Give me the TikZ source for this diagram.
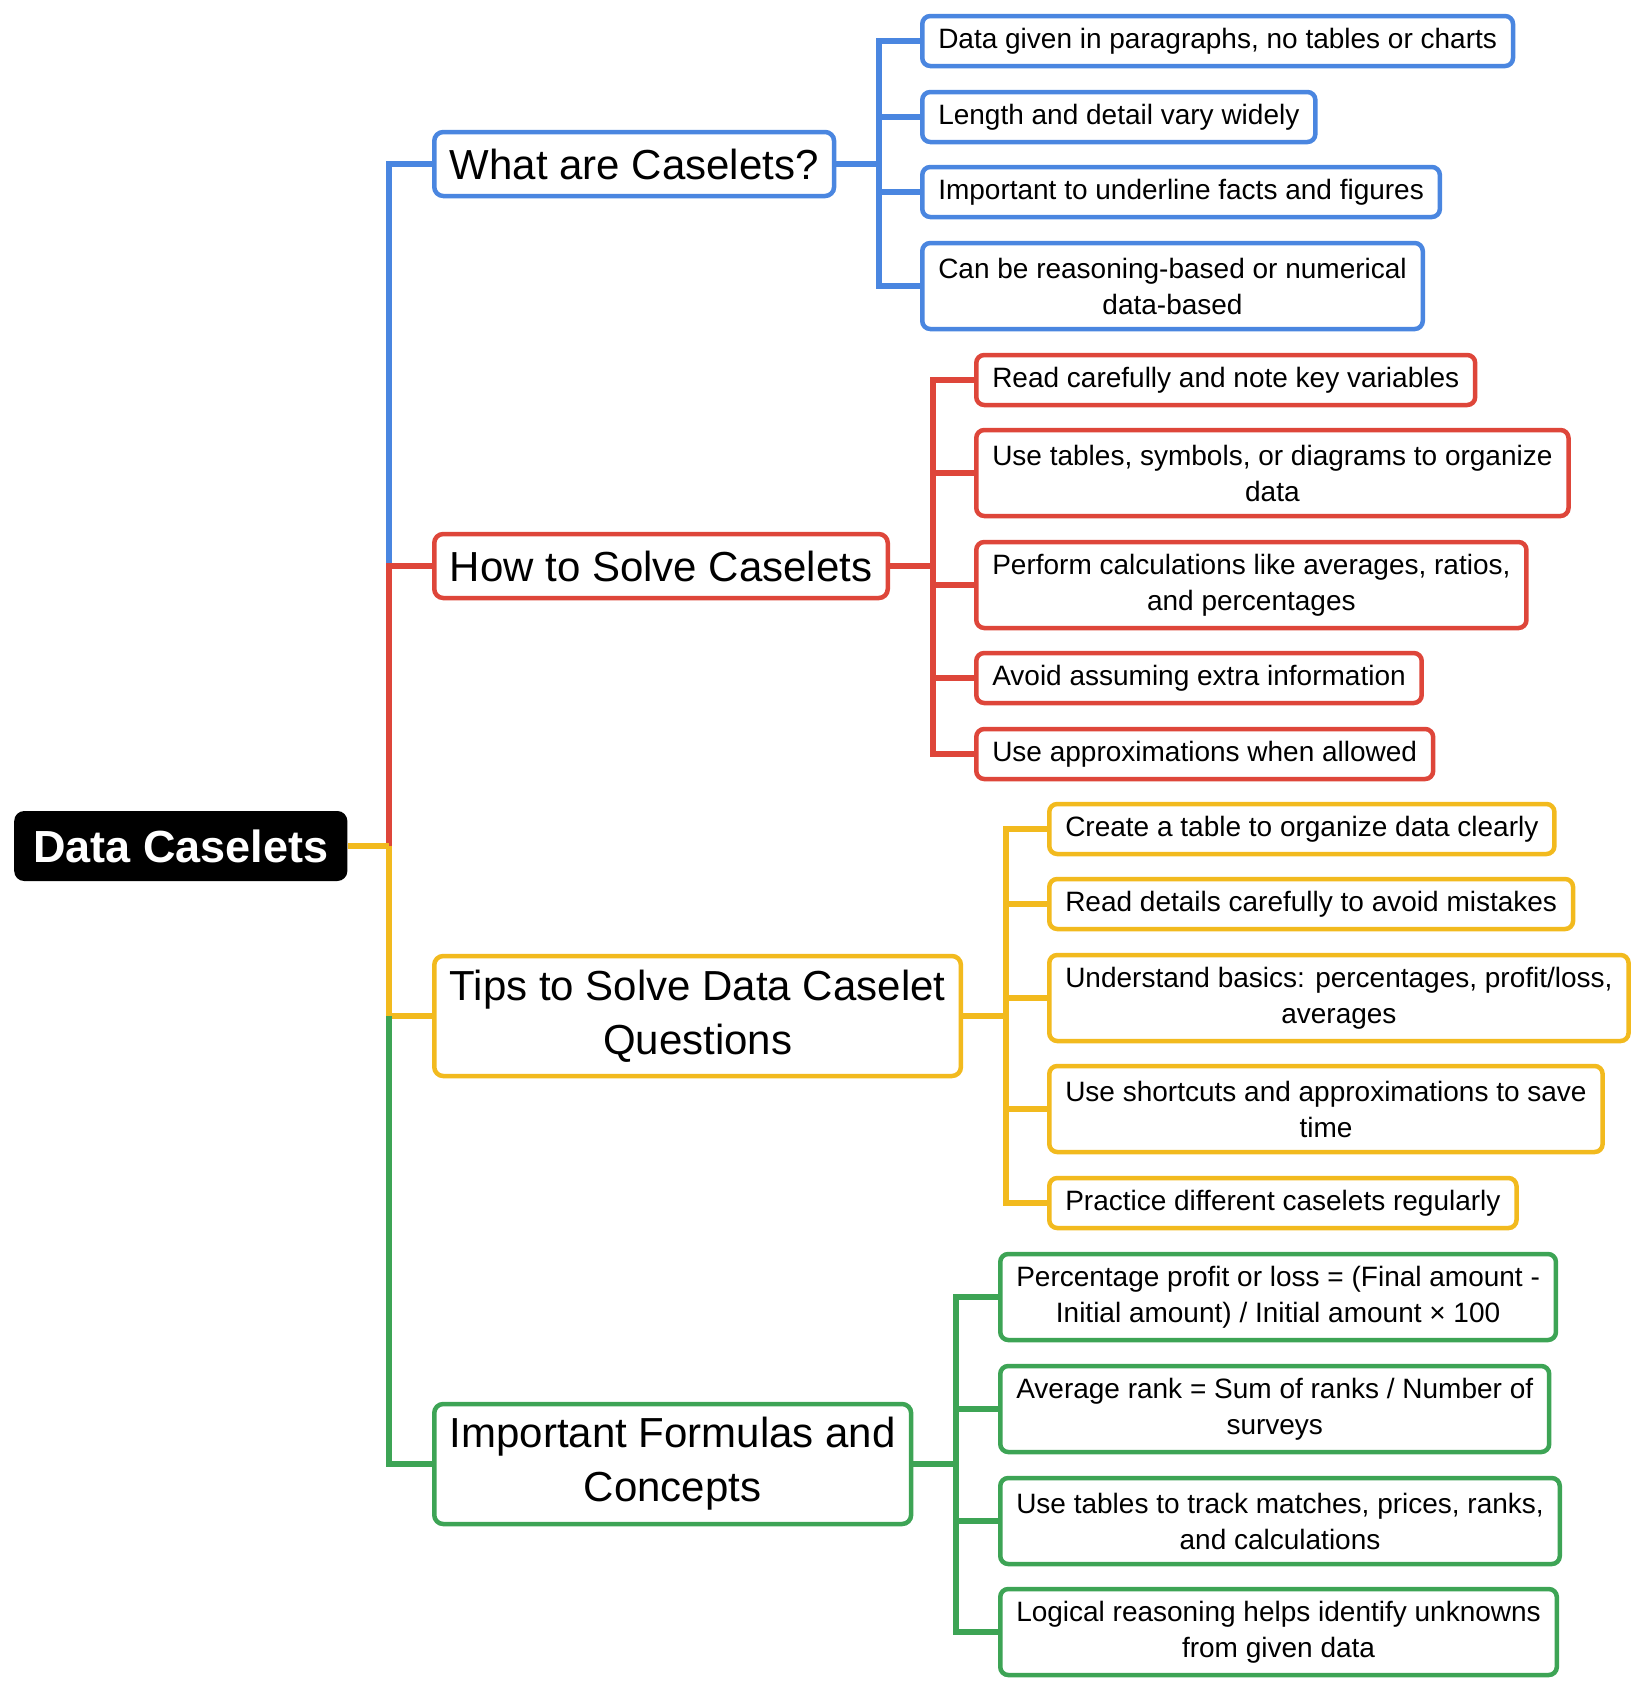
\documentclass[tikz,border=0pt]{standalone}
\usepackage{fontspec}
\setmainfont{Liberation Sans}
\usepackage{xcolor}
\usetikzlibrary{positioning,calc}

\definecolor{cblue}{HTML}{4A86E0}
\definecolor{cred}{HTML}{DE463A}
\definecolor{cyellow}{HTML}{F2BA1E}
\definecolor{cgreen}{HTML}{3DA455}

\begin{document}
\begin{tikzpicture}[x=1pt, y=-1pt,
    root/.style={rectangle, fill=black, text=white, rounded corners=10pt, inner xsep=19pt, minimum height=70pt, anchor=west, font=\bfseries\fontsize{45}{54}\selectfont},
    topic/.style={rectangle, draw, fill=white, rounded corners=9pt, line width=4.5pt, inner xsep=15.5pt, inner ysep=4pt, minimum height=64pt, align=center, anchor=west, font=\fontsize{42}{54}\selectfont},
    leaf/.style={rectangle, draw, fill=white, rounded corners=8pt, line width=4.5pt, inner xsep=16pt, inner ysep=4pt, minimum height=50pt, align=center, anchor=west, font=\fontsize{28}{36}\selectfont},
    tall/.style={minimum height=86pt},
    link/.style={line width=6pt}]

    \useasboundingbox (0,0) rectangle (1642,1692);

    % Root
    \node[root] (root) at (14,846) {Data Caselets};
    \coordinate (trunk) at (389,846);

    % Main topics
    \node[topic, draw=cblue] (what) at (432,164) {What are Caselets?};
    \node[topic, draw=cred] (how) at (432,566) {How to Solve Caselets};
    \node[topic, draw=cyellow, minimum height=120pt] (tips) at (432,1016) {Tips to Solve Data Caselet\\Questions};
    \node[topic, draw=cgreen, minimum height=120pt] (imp) at (432,1464) {Important Formulas and\\Concepts};

    % What are Caselets?
    \node[leaf, draw=cblue] (w1) at (920,41) {Data given in paragraphs, no tables or charts};
    \node[leaf, draw=cblue] (w2) at (920,117) {Length and detail vary widely};
    \node[leaf, draw=cblue] (w3) at (920,192) {Important to underline facts and figures};
    \node[leaf, draw=cblue, tall] (w4) at (920,286) {Can be reasoning-based or numerical\\data-based};

    % How to Solve Caselets
    \node[leaf, draw=cred] (h1) at (974,380) {Read carefully and note key variables};
    \node[leaf, draw=cred, tall] (h2) at (974,473) {Use tables, symbols, or diagrams to organize\\data};
    \node[leaf, draw=cred, tall] (h3) at (974,585) {Perform calculations like averages, ratios,\\and percentages};
    \node[leaf, draw=cred] (h4) at (974,678) {Avoid assuming extra information};
    \node[leaf, draw=cred] (h5) at (974,754) {Use approximations when allowed};

    % Tips
    \node[leaf, draw=cyellow] (t1) at (1047,829) {Create a table to organize data clearly};
    \node[leaf, draw=cyellow] (t2) at (1047,904) {Read details carefully to avoid mistakes};
    \node[leaf, draw=cyellow, tall] (t3) at (1047,998) {Understand basics: percentages, profit/loss,\\averages};
    \node[leaf, draw=cyellow, tall] (t4) at (1047,1109) {Use shortcuts and approximations to save\\time};
    \node[leaf, draw=cyellow] (t5) at (1047,1203) {Practice different caselets regularly};

    % Formulas and concepts
    \node[leaf, draw=cgreen, tall] (f1) at (998,1297) {Percentage profit or loss = (Final amount -\\Initial amount) / Initial amount × 100};
    \node[leaf, draw=cgreen, tall] (f2) at (998,1409) {Average rank = Sum of ranks / Number of\\surveys};
    \node[leaf, draw=cgreen, tall] (f3) at (998,1521) {Use tables to track matches, prices, ranks,\\and calculations};
    \node[leaf, draw=cgreen, tall] (f4) at (998,1632) {Logical reasoning helps identify unknowns\\from given data};

    % Trunk
    \draw[link, cblue] (what.west) -| (trunk |- how.west);
    \draw[link, cred] (how.west) -| (trunk);
    \draw[link, cyellow] (root.east) -- (trunk);
    \draw[link, cyellow] (tips.west) -| (trunk);
    \draw[link, cgreen] (imp.west) -| (trunk |- tips.west);

    % Branches
    \foreach \n in {w1,w2,w3,w4}
        \draw[link, cblue] (what.east) -- ++(43,0) |- (\n.west);
    \foreach \n in {h1,h2,h3,h4,h5}
        \draw[link, cred] (how.east) -- ++(43,0) |- (\n.west);
    \foreach \n in {t1,t2,t3,t4,t5}
        \draw[link, cyellow] (tips.east) -- ++(43,0) |- (\n.west);
    \foreach \n in {f1,f2,f3,f4}
        \draw[link, cgreen] (imp.east) -- ++(43,0) |- (\n.west);

\end{tikzpicture}
\end{document}
